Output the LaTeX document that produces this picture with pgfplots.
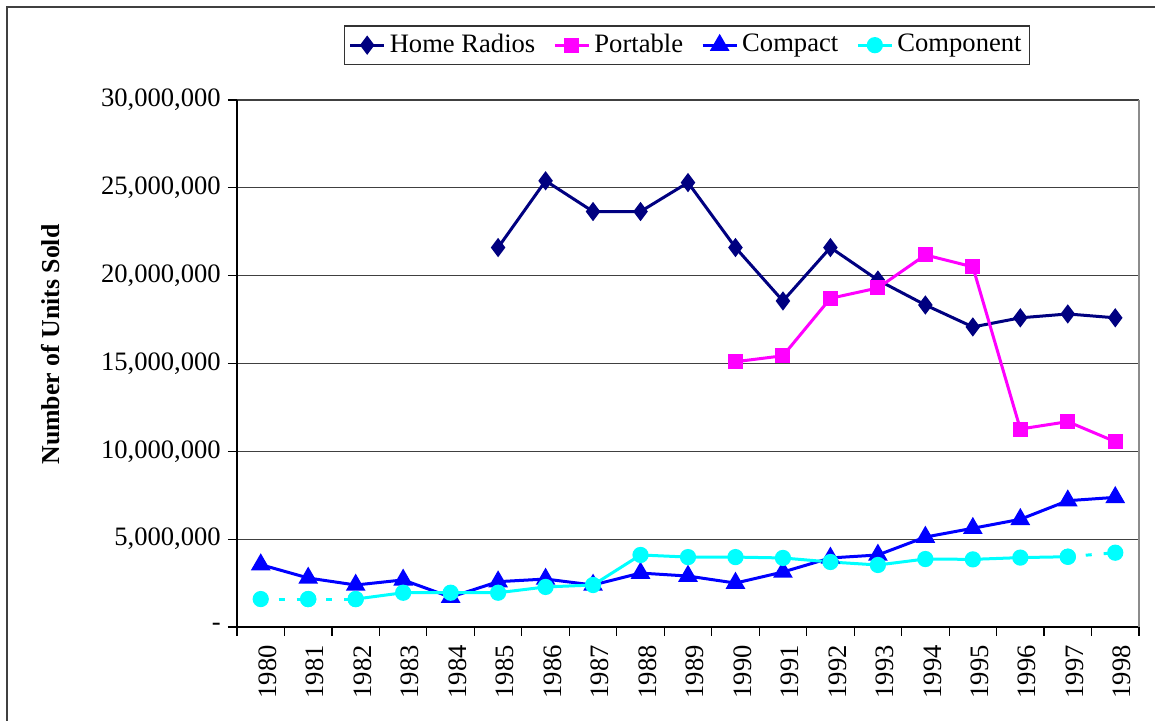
\documentclass[border=0pt]{standalone}
\usepackage{pgfplots}
\pgfplotsset{compat=1.18}
\usepackage{fontspec}
\setmainfont{Liberation Serif}
\definecolor{hrnavy}{RGB}{0,0,128}
\definecolor{pmag}{RGB}{255,0,255}
\definecolor{cblue}{RGB}{0,0,255}
\definecolor{ccyan}{RGB}{0,255,255}
\begin{document}
\fontsize{13.3}{16}\selectfont
\begin{tikzpicture}
\clip (-118.5pt,-47pt) rectangle (459pt,313.5pt);
\useasboundingbox (-118.5pt,-47pt) rectangle (459pt,313.5pt);
\draw[black!75, line width=0.8pt] (-115pt,-80pt) rectangle (500pt,310pt);
\begin{axis}[
  scale only axis,
  width=451pt, height=263.5pt,
  xmin=-0.5, xmax=18.5,
  ymin=0, ymax=30000000,
  axis x line*=bottom, axis y line*=left,
  axis line style={black, line width=0.7pt},
  xtick={0,...,18},
  xticklabels={1980,1981,1982,1983,1984,1985,1986,1987,1988,1989,1990,1991,1992,1993,1994,1995,1996,1997,1998},
  major x tick style={draw=none},
  minor xtick={-0.5,0.5,...,18.5},
  minor x tick style={black, line width=0.6pt},
  minor tick length=4.5pt,
  xticklabel style={rotate=90, anchor=east, font=\fontsize{13.3}{16}\selectfont, yshift=-3.5pt},
  ytick={0,5000000,10000000,15000000,20000000,25000000,30000000},
  yticklabels={{-},{5,000,000},{10,000,000},{15,000,000},{20,000,000},{25,000,000},{30,000,000}},
  yticklabel style={font=\fontsize{13.3}{16}\selectfont, xshift=1pt},
  major y tick style={black, line width=0.6pt},
  major tick length=4.5pt,
  tick align=outside,
  scaled y ticks=false,
  ymajorgrids,
  major grid style={black!75, line width=0.6pt},
  every axis y label/.style={at={(axis description cs:-0.207,0.536)}, rotate=90, anchor=center},
  ylabel={\fontsize{12.9}{15}\selectfont\bfseries Number of Units Sold},
  legend columns=-1,
  legend style={at={(0.499,1.104)}, anchor=center, draw=black!80, line width=0.6pt,
    font=\fontsize{13.3}{16}\selectfont, inner sep=2pt,
    /tikz/every even column/.append style={column sep=7pt}},
  legend image post style={line width=1.5pt},
  clip=false,
]
\draw[black!45, line width=0.8pt] (rel axis cs:1,0) -- (rel axis cs:1,1);
\addplot[hrnavy, line width=1.5pt, mark=diamond*, mark size=3.6pt, mark options={solid}]
coordinates {(5,21600000)(6,25400000)(7,23650000)(8,23650000)(9,25300000)(10,21600000)(11,18560000)(12,21600000)(13,19750000)(14,18330000)(15,17080000)(16,17600000)(17,17820000)(18,17600000)};
\addlegendentry{Home Radios}
\addplot[pmag, line width=1.5pt, mark=square*, mark size=3pt, mark options={solid}]
coordinates {(10,15100000)(11,15440000)(12,18710000)(13,19300000)(14,21180000)(15,20500000)(16,11270000)(17,11690000)(18,10550000)};
\addlegendentry{Portable}
\addplot[cblue, line width=1.5pt, mark=triangle*, mark size=4.2pt, mark options={solid}]
coordinates {(0,3550000)(1,2790000)(2,2390000)(3,2680000)(4,1700000)(5,2580000)(6,2730000)(7,2390000)(8,3070000)(9,2900000)(10,2500000)(11,3130000)(12,3930000)(13,4100000)(14,5120000)(15,5620000)(16,6130000)(17,7190000)(18,7380000)};
\addlegendentry{Compact}
\addplot[ccyan, line width=1.5pt, dash pattern=on 3pt off 6pt, dash phase=0pt, mark=*, mark size=3.3pt, mark options={solid}, forget plot]
coordinates {(0,1590000)(1,1590000)};
\addplot[ccyan, line width=1.5pt, dash pattern=on 3pt off 6pt, dash phase=0pt, mark=*, mark size=3.3pt, mark options={solid}, forget plot]
coordinates {(1,1590000)(2,1590000)};
\addplot[ccyan, line width=1.5pt, dash pattern=on 3pt off 6pt, dash phase=0pt, mark=*, mark size=3.3pt, mark options={solid}, forget plot]
coordinates {(17,4000000)(18,4230000)};
\addplot[ccyan, line width=1.5pt, mark=*, mark size=3.3pt, mark options={solid}]
coordinates {(2,1590000)(3,1950000)(4,1950000)(5,1950000)(6,2280000)(7,2390000)(8,4100000)(9,3980000)(10,3980000)(11,3930000)(12,3700000)(13,3530000)(14,3870000)(15,3850000)(16,3950000)(17,4000000)};
\addlegendentry{Component}
\end{axis}
\end{tikzpicture}
\end{document}
